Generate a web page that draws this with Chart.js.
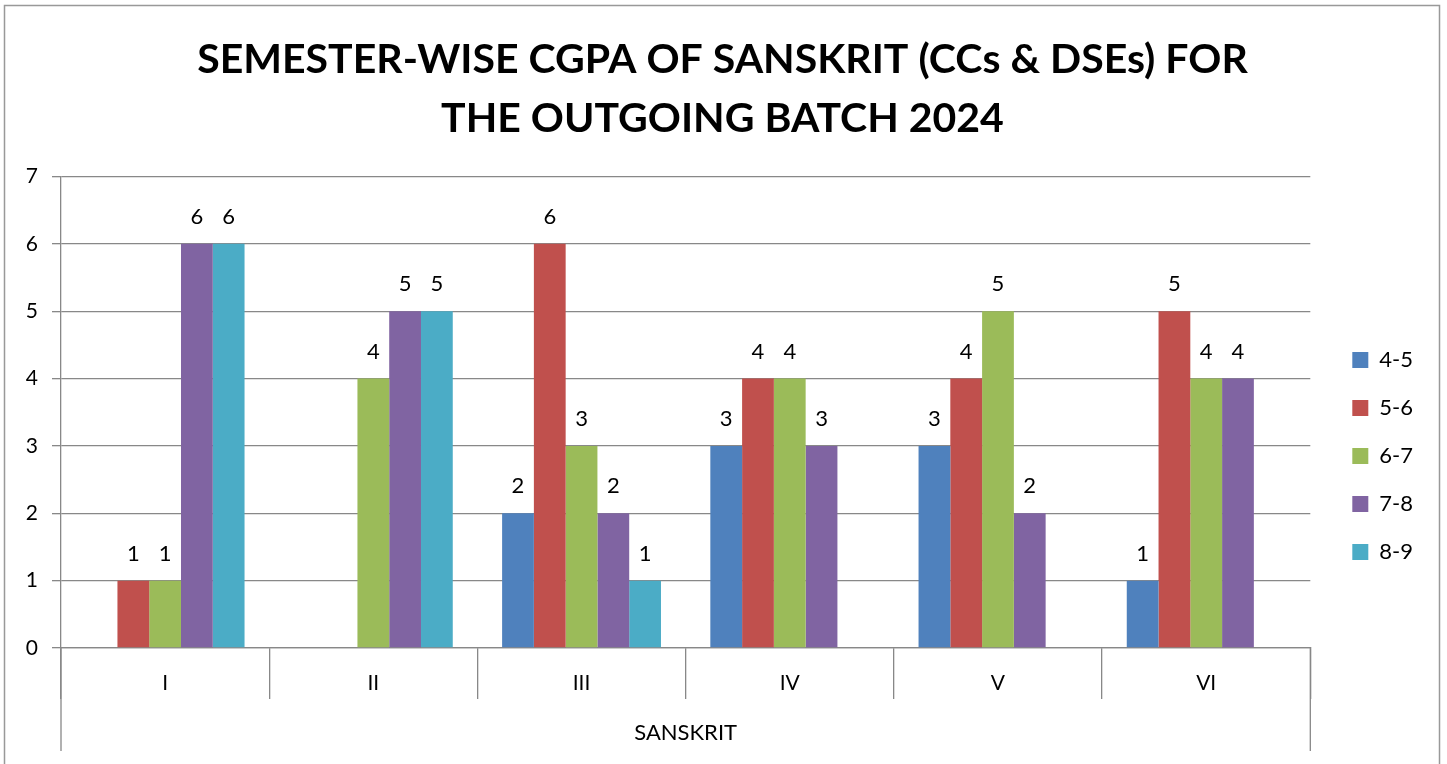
<!DOCTYPE html>
<html>
<head>
<meta charset="utf-8">
<title>Semester-wise CGPA of Sanskrit</title>
<script src="https://cdn.jsdelivr.net/npm/chart.js@4.4.1/dist/chart.umd.min.js"></script>
<style>
  html, body { margin: 0; padding: 0; background: #fff; }
  #wrap { position: relative; width: 1447px; height: 764px; }
</style>
</head>
<body>
<div id="wrap"><canvas id="cgpaChart"></canvas></div>
<script>
  // semesters along the x axis
  var semesters = ["I", "II", "III", "IV", "V", "VI"];
  // CGPA bands, one series each (null = no bar and no label)
  var bandNames = ["4-5", "5-6", "6-7", "7-8", "8-9"];
  var band_4_5 = [null, null, 2, 3, 3, 1];
  var band_5_6 = [1, null, 6, 4, 4, 5];
  var band_6_7 = [1, 4, 3, 4, 5, 4];
  var band_7_8 = [6, 5, 2, 3, 2, 4];
  var band_8_9 = [6, 5, 1, null, null, null];
  var yMin = 0, yMax = 7, yStep = 1;

  var bandColors = ["#4F81BD", "#C0504D", "#9BBB59", "#8064A2", "#4BACC6"];
  var gridGray = "#888888";

  Chart.defaults.font.family = "Lato, 'Open Sans', sans-serif";
  Chart.defaults.color = "#000";

  var series = [band_4_5, band_5_6, band_6_7, band_7_8, band_8_9];
  var datasets = [];
  for (var i = 0; i < series.length; i++) {
      datasets.push({
          label: bandNames[i],
          data: series[i],
          backgroundColor: bandColors[i],
          borderWidth: 0,
          categoryPercentage: 0.763,
          barPercentage: 1.0
      });
  }

  // value above every bar, like excel data labels
  var barLabels = {
      id: "barLabels",
      afterDatasetsDraw: function(chart) {
          var ctx = chart.ctx;
          ctx.save();
          ctx.font = "22px Lato, 'Open Sans', sans-serif";
          ctx.fillStyle = "#000";
          ctx.textAlign = "center";
          ctx.textBaseline = "middle";
          chart.data.datasets.forEach(function(ds, di) {
              chart.getDatasetMeta(di).data.forEach(function(bar, j) {
                  if (ds.data[j] == null) return;
                  ctx.fillText(ds.data[j], bar.x, bar.y - 27);
              });
          });
          ctx.restore();
      }
  };

  // outer frame + the long end lines of the two level category axis
  var frame = {
      id: "frame",
      afterLayout: function(chart) {
          // legend and title sit a bit off from where chart.js puts them
          var lg = chart.legend;
          lg.left += 16; lg.right += 16;
          lg.top += 74; lg.bottom += 74;
          var tb = chart.titleBlock;
          tb.left += 19; tb.right += 19;
      },
      beforeDraw: function(chart) {
          var ctx = chart.ctx;
          ctx.save();
          ctx.fillStyle = "#fff";
          ctx.fillRect(0, 0, chart.width, chart.height);
          ctx.strokeStyle = "#999";
          ctx.lineWidth = 1.5;
          ctx.strokeRect(4.5, 5.5, chart.width - 12, chart.height - 3.5);
          ctx.restore();
      },
      afterDraw: function(chart) {
          var ctx = chart.ctx, a = chart.chartArea;
          ctx.save();
          ctx.strokeStyle = gridGray;
          ctx.lineWidth = 1.3;
          ctx.beginPath();
          ctx.moveTo(a.left, a.bottom); ctx.lineTo(a.left, a.bottom + 103);
          ctx.moveTo(a.right, a.bottom); ctx.lineTo(a.right, a.bottom + 103);
          ctx.stroke();
          ctx.restore();
      }
  };

  var chart = new Chart("cgpaChart", {
      type: "bar",
      data: { labels: semesters, datasets: datasets },
      plugins: [frame, barLabels],
      options: {
          responsive: true,
          maintainAspectRatio: false,
          animation: false,
          layout: { padding: { top: 0, right: 40, bottom: 0, left: 0 } },
          plugins: {
              title: {
                  display: true,
                  text: ["SEMESTER-WISE CGPA OF SANSKRIT (CCs & DSEs) FOR", "THE OUTGOING BATCH 2024"],
                  color: "#000",
                  font: { size: 41, weight: "bold", lineHeight: 1.42 },
                  padding: { top: 31, bottom: 29 }
              },
              legend: {
                  position: "right",
                  labels: {
                      boxWidth: 16,
                      boxHeight: 16,
                      padding: 26,
                      color: "#000",
                      font: { size: 22 }
                  }
              },
              tooltip: { enabled: false }
          },
          scales: {
              x: {
                  grid: {
                      offset: true,
                      drawOnChartArea: false,
                      tickLength: 51,
                      color: gridGray,
                      lineWidth: 1.3
                  },
                  border: { color: gridGray, width: 1.3 },
                  ticks: { font: { size: 21 }, padding: -28, color: "#000" },
                  title: {
                      display: true,
                      text: "SANSKRIT",
                      color: "#000",
                      font: { size: 22 },
                      padding: { top: 0, bottom: 18 }
                  },
                  afterFit: function(scale) { scale.height = 116; }
              },
              y: {
                  min: yMin,
                  max: yMax,
                  ticks: { stepSize: yStep, font: { size: 21 }, padding: 14, color: "#000" },
                  grid: { color: gridGray, lineWidth: 1.3, tickLength: 9 },
                  border: { color: gridGray, width: 1.3 },
                  afterFit: function(scale) { scale.width = 61; }
              }
          }
      }
  });
</script>
</body>
</html>
